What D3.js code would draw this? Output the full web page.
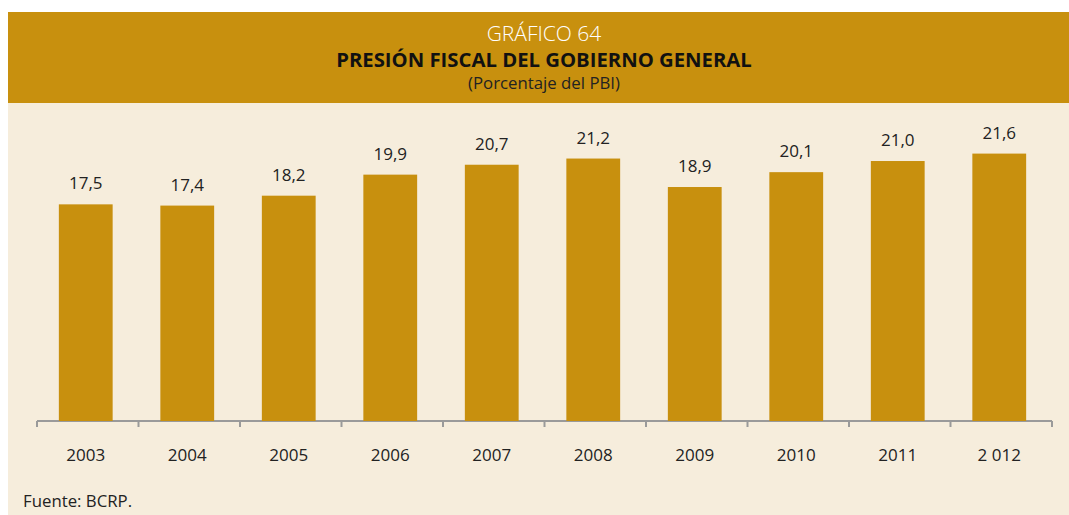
<!DOCTYPE html>
<html>
<head>
<meta charset="utf-8">
<script src="https://cdn.jsdelivr.net/npm/d3@7"></script>
<style>
  body { margin: 0; background: #fff; }
  svg { display: block; }
  text { font-family: "Open Sans", sans-serif; }
</style>
</head>
<body>
<div id="chart"></div>
<script>
// Data
const years = ['2003', '2004', '2005', '2006', '2007', '2008', '2009', '2010', '2011', '2 012'];
const values = [17.5, 17.4, 18.2, 19.9, 20.7, 21.2, 18.9, 20.1, 21.0, 21.6];

const width = 1069;
const height = 515;

const gold = '#c8900e';
const cream = '#f6eddc';

const svg = d3.select('#chart')
  .append('svg')
  .attr('width', width)
  .attr('height', height);

// Header band
svg.append('rect')
  .attr('x', 8).attr('y', 12)
  .attr('width', width - 8).attr('height', 91)
  .attr('fill', gold);

// Chart body
svg.append('rect')
  .attr('x', 8).attr('y', 103)
  .attr('width', width - 8).attr('height', height - 103)
  .attr('fill', cream);

const cx = 544;
svg.append('text')
  .attr('x', cx).attr('y', 41)
  .attr('text-anchor', 'middle')
  .attr('fill', '#fff')
  .attr('font-size', 21)
  .attr('font-weight', 300)
  .text('GRÁFICO 64');

svg.append('text')
  .attr('x', cx).attr('y', 67)
  .attr('text-anchor', 'middle')
  .attr('fill', '#111')
  .attr('font-size', 20.3)
  .attr('font-weight', 700)
  .text('PRESIÓN FISCAL DEL GOBIERNO GENERAL');

svg.append('text')
  .attr('x', cx).attr('y', 89)
  .attr('text-anchor', 'middle')
  .attr('fill', '#222')
  .attr('font-size', 16.8)
  .text('(Porcentaje del PBI)');

// Scales
const x = d3.scaleBand()
  .domain(years)
  .range([35, 1050])
  .paddingInner(0.47)
  .paddingOuter(0.235);

const y = d3.scaleLinear()
  .domain([0, 25])
  .range([421, 421 - 12.38 * 25]);

// Axis with ticks at band edges
const axisY = 421;
const edges = d3.range(years.length + 1).map(i => 37 + i * x.step());

const axis = svg.append('g').attr('stroke', '#9a9a9a').attr('stroke-width', 2);
axis.append('line')
  .attr('x1', 37).attr('x2', 1052)
  .attr('y1', axisY).attr('y2', axisY);
axis.selectAll('line.tick')
  .data(edges)
  .enter()
  .append('line')
  .attr('class', 'tick')
  .attr('x1', d => d).attr('x2', d => d)
  .attr('y1', axisY).attr('y2', axisY + 6);

// Bars
svg.selectAll('rect.bar')
  .data(values)
  .enter()
  .append('rect')
  .attr('class', 'bar')
  .attr('x', (d, i) => x(years[i]))
  .attr('y', d => y(d))
  .attr('width', x.bandwidth())
  .attr('height', d => y(0) - y(d))
  .attr('fill', gold);

// Value labels
svg.selectAll('text.val')
  .data(values)
  .enter()
  .append('text')
  .attr('class', 'val')
  .attr('x', (d, i) => x(years[i]) + x.bandwidth() / 2)
  .attr('y', d => y(d) - 15)
  .attr('text-anchor', 'middle')
  .attr('fill', '#222')
  .attr('font-size', 17)
  .text(d => d.toFixed(1).replace('.', ','));

// Year labels
svg.selectAll('text.year')
  .data(years)
  .enter()
  .append('text')
  .attr('class', 'year')
  .attr('x', d => x(d) + x.bandwidth() / 2)
  .attr('y', 461)
  .attr('text-anchor', 'middle')
  .attr('fill', '#222')
  .attr('font-size', 17)
  .text(d => d);

// Source
svg.append('text')
  .attr('x', 23).attr('y', 507)
  .attr('fill', '#222')
  .attr('font-size', 16.8)
  .text('Fuente: BCRP.');
</script>
</body>
</html>
